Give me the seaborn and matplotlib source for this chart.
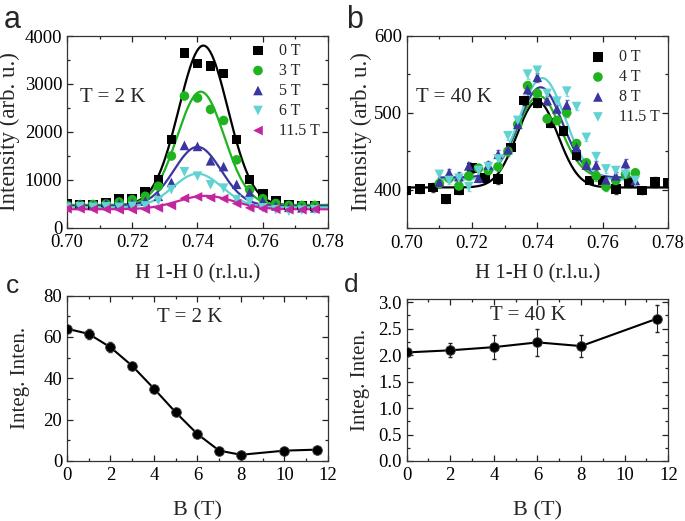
import numpy as np
import matplotlib
matplotlib.use("Agg")
import matplotlib.pyplot as plt
import seaborn as sns
from matplotlib.ticker import MultipleLocator, FormatStrFormatter

sns.set_theme(style="ticks")
plt.rcParams['font.family'] = ['Liberation Serif', 'DejaVu Serif']

# panel a: T = 2 K, H 1-H 0 scans at several fields
h_a = [0.700, 0.704, 0.708, 0.712, 0.716, 0.720, 0.724, 0.728, 0.732, 0.736,
       0.740, 0.744, 0.748, 0.752, 0.756, 0.760, 0.764, 0.768, 0.772, 0.776]
a_0T = [500, 490, 480, 530, 600, 610, 750, 1010, 1840, 3640, 3430, 3370, 3220, 1840, 1010, 710, 560, 480, 470, 455]
a_3T = [470, 480, 490, 500, 540, 590, 660, 870, 1500, 2750, 2710, 2470, 2240, 1420, 800, 610, 510, 470, 470, 470]
a_5T = [470, 500, 470, 520, 510, 520, 560, 660, 950, 1720, 1700, 1400, 1280, 910, 740, 560, 460, 430, 420, 420]
a_6T = [430, 440, 430, 440, 430, 450, 460, 570, 800, 1170, 1080, 900, 830, 590, 550, 420, 380, 350, 370, 380]
a_115T = [400, 400, 390, 390, 380, 380, 390, 420, 470, 620, 650, 630, 610, 510, 420, 400, 390, 380, 380, 390]
a_labels = ['0 T', '3 T', '5 T', '6 T', '11.5 T']
# gaussian fit parameters: baseline, amplitude, centre, sigma
a_base = [470, 480, 460, 430, 390]
a_amp = [3330, 2360, 1230, 700, 280]
a_cen = [0.7418, 0.7410, 0.7400, 0.7400, 0.7425]
a_sig = [0.0075, 0.0072, 0.0072, 0.0075, 0.0085]

# panel b: T = 40 K
h_b0 = [0.700, 0.704, 0.708, 0.712, 0.716, 0.720, 0.724, 0.728, 0.732, 0.736, 0.740,
        0.744, 0.748, 0.752, 0.756, 0.760, 0.764, 0.768, 0.772, 0.776, 0.780]
b_0T = [399, 401, 403, 388, 399, 428, 415, 414, 455, 516, 513, 487, 476, 445, 412, 412, 401, 409, 399, 410, 409]
h_b = [0.710, 0.713, 0.716, 0.719, 0.722, 0.725, 0.728, 0.731, 0.734, 0.737, 0.740,
       0.743, 0.746, 0.749, 0.752, 0.755, 0.758, 0.761, 0.764, 0.767, 0.770]
b_4T = [408, 415, 405, 418, 428, 425, 430, 450, 485, 535, 525, 492, 490, 500, 460, 435, 418, 404, 412, 420, 422]
b_8T = [410, 422, 417, 431, 415, 432, 446, 452, 485, 530, 546, 516, 505, 510, 455, 432, 432, 413, 418, 434, 412]
b_115T = [420, 412, 415, 404, 425, 430, 440, 470, 490, 550, 555, 525, 515, 528, 508, 468, 443, 427, 425, 420, 412]
b_err = [5, 5, 6, 5, 5, 6, 5, 6, 5, 6, 6, 6, 5, 6, 5, 5, 6, 5, 5, 6, 5]
b_labels = ['0 T', '4 T', '8 T', '11.5 T']
b_base = [403, 415, 416, 413]
b_amp = [112, 107, 117, 132]
b_cen = [0.7400, 0.7405, 0.7410, 0.7415]
b_sig = [0.0063, 0.0066, 0.0067, 0.0070]

# panel c / d: integrated intensity vs field
field_c = [0, 1, 2, 3, 4, 5, 6, 7, 8, 10, 11.5]
inten_c = [64, 61.5, 55, 46, 35, 23.5, 13, 5, 3, 5, 5.5]
err_c = [1.5, 2.5, 2.5, 1.2, 1.0, 1.0, 1.0, 1.0, 1.0, 1.0, 1.0]
field_d = [0, 2, 4, 6, 8, 11.5]
inten_d = [2.05, 2.09, 2.15, 2.24, 2.17, 2.69]
err_d = [0.05, 0.13, 0.22, 0.25, 0.20, 0.26]

colors = ['#000000', '#1fb41f', '#3b35a0', '#62d2d2', '#c4249e']
markers_a = ['s', 'o', '^', 'v', '<']
colors_b = colors[:4]
markers_b = ['s', 'o', '^', 'v']

fig = plt.figure(figsize=(6.85, 5.21), dpi=100)
ax_a = fig.add_axes([0.0978, 0.5624, 0.381, 0.3685])
ax_b = fig.add_axes([0.5937, 0.5618, 0.3815, 0.3697])
ax_c = fig.add_axes([0.0978, 0.1152, 0.381, 0.3173])
ax_d = fig.add_axes([0.5937, 0.1152, 0.3819, 0.311])

tick_fs = 13.5
int_fs = 16.5
lab_fs = 15
t_fs = 15
leg_fs = 11.5


def style(ax):
    ax.tick_params(which='both', direction='in', top=True, right=True,
                   labelsize=tick_fs, width=0.9, colors='#222222', labelcolor='black')
    ax.tick_params(which='major', length=4)
    ax.tick_params(which='minor', length=2.2)
    ax.tick_params(axis='x', pad=4.5)
    for s in ax.spines.values():
        s.set_linewidth(0.9)
        s.set_color('#333333')
    ax.yaxis.label.set_verticalalignment('center')
    ax.xaxis.label.set_verticalalignment('center')


def gauss(x, b, a, c, s):
    return b + a * np.exp(-(x - c) ** 2 / (2 * s ** 2))


# ---- panel a
xf = np.linspace(0.700, 0.780, 300)
series_a = [a_0T, a_3T, a_5T, a_6T, a_115T]
for i in range(5):
    sns.lineplot(x=xf, y=gauss(xf, a_base[i], a_amp[i], a_cen[i], a_sig[i]),
                 ax=ax_a, color=colors[i], lw=1.6, zorder=2)
for i, ys in enumerate(series_a):
    sns.scatterplot(x=h_a, y=ys, ax=ax_a, marker=markers_a[i], color=colors[i],
                    s=48, edgecolor='none', label=a_labels[i], zorder=3)
ax_a.set_xlim(0.70, 0.78)
ax_a.set_ylim(0, 4000)
ax_a.xaxis.set_major_locator(MultipleLocator(0.02))
ax_a.xaxis.set_minor_locator(MultipleLocator(0.01))
ax_a.yaxis.set_major_locator(MultipleLocator(1000))
ax_a.yaxis.set_minor_locator(MultipleLocator(500))
ax_a.xaxis.set_major_formatter(FormatStrFormatter('%.2f'))
ax_a.set_xlabel('H 1-H 0 (r.l.u.)', fontsize=lab_fs)
ax_a.set_ylabel('Intensity (arb. u.)', fontsize=int_fs)
ax_a.text(0.05, 0.68, 'T = 2 K', transform=ax_a.transAxes, fontsize=t_fs, va='center')
ax_a.legend(loc='upper left', bbox_to_anchor=(0.689, 0.965), frameon=False, fontsize=leg_fs,
            handlelength=1.4, handletextpad=0.6, labelspacing=0.25,
            borderaxespad=0, borderpad=0)
style(ax_a)
ax_a.xaxis.set_label_coords(0.5, -0.24)
ax_a.yaxis.set_label_coords(-0.222, 0.5)

# ---- panel b
series_b = [b_0T, b_4T, b_8T, b_115T]
xs_b = [h_b0, h_b, h_b, h_b]
for i in range(4):
    xx = np.linspace(min(xs_b[i]), max(xs_b[i]), 300)
    sns.lineplot(x=xx, y=gauss(xx, b_base[i], b_amp[i], b_cen[i], b_sig[i]),
                 ax=ax_b, color=colors_b[i], lw=1.6, zorder=2)
for i in range(4):
    ax_b.errorbar(xs_b[i], series_b[i], yerr=b_err[:len(xs_b[i])], fmt='none',
                  ecolor=colors_b[i], elinewidth=0.8, capsize=1.5, zorder=3, alpha=0.7)
    sns.scatterplot(x=xs_b[i], y=series_b[i], ax=ax_b, marker=markers_b[i], color=colors_b[i],
                    s=48, edgecolor='none', label=b_labels[i], zorder=4)
ax_b.set_xlim(0.70, 0.78)
ax_b.set_ylim(350, 600)
ax_b.xaxis.set_major_locator(MultipleLocator(0.02))
ax_b.xaxis.set_minor_locator(MultipleLocator(0.01))
ax_b.set_yticks([400, 500, 600])
ax_b.yaxis.set_minor_locator(MultipleLocator(50))
ax_b.xaxis.set_major_formatter(FormatStrFormatter('%.2f'))
ax_b.set_xlabel('H 1-H 0 (r.l.u.)', fontsize=lab_fs)
ax_b.set_ylabel('Intensity (arb. u.)', fontsize=int_fs)
ax_b.text(0.035, 0.68, 'T = 40 K', transform=ax_b.transAxes, fontsize=t_fs, va='center')
ax_b.legend(loc='upper left', bbox_to_anchor=(0.689, 0.93), frameon=False, fontsize=leg_fs,
            handlelength=1.4, handletextpad=0.6, labelspacing=0.25,
            borderaxespad=0, borderpad=0)
style(ax_b)
ax_b.xaxis.set_label_coords(0.5, -0.237)
ax_b.yaxis.set_label_coords(-0.172, 0.5)

# ---- panel c
ax_c.errorbar(field_c, inten_c, yerr=err_c, fmt='none', ecolor='#222222',
              elinewidth=0.8, capsize=1.5, zorder=2)
sns.lineplot(x=field_c, y=inten_c, ax=ax_c, color='black', lw=1.5, marker='o',
             markersize=7, markeredgecolor='#444444', markeredgewidth=0.6, zorder=3)
ax_c.set_xlim(0, 12)
ax_c.set_ylim(0, 80)
ax_c.xaxis.set_major_locator(MultipleLocator(2))
ax_c.xaxis.set_minor_locator(MultipleLocator(1))
ax_c.yaxis.set_major_locator(MultipleLocator(20))
ax_c.yaxis.set_minor_locator(MultipleLocator(10))
ax_c.set_xlabel('B (T)', fontsize=16)
ax_c.set_ylabel('Integ. Inten.', fontsize=lab_fs)
ax_c.text(0.47, 0.87, 'T = 2 K', transform=ax_c.transAxes, fontsize=t_fs, va='center', ha='center')
style(ax_c)
ax_c.xaxis.set_label_coords(0.5, -0.3)
ax_c.yaxis.set_label_coords(-0.177, 0.5)

# ---- panel d
ax_d.errorbar(field_d, inten_d, yerr=err_d, fmt='none', ecolor='#222222',
              elinewidth=0.8, capsize=1.5, zorder=2)
sns.lineplot(x=field_d, y=inten_d, ax=ax_d, color='black', lw=1.5, marker='o',
             markersize=7, markeredgecolor='#444444', markeredgewidth=0.6, zorder=3)
ax_d.set_xlim(0, 12)
ax_d.set_ylim(0, 3.06)
ax_d.xaxis.set_major_locator(MultipleLocator(2))
ax_d.xaxis.set_minor_locator(MultipleLocator(1))
ax_d.yaxis.set_major_locator(MultipleLocator(0.5))
ax_d.yaxis.set_minor_locator(MultipleLocator(0.25))
ax_d.yaxis.set_major_formatter(FormatStrFormatter('%.1f'))
ax_d.set_xlabel('B (T)', fontsize=16)
ax_d.set_ylabel('Integ. Inten.', fontsize=lab_fs)
ax_d.text(0.464, 0.90, 'T = 40 K', transform=ax_d.transAxes, fontsize=t_fs, va='center', ha='center')
style(ax_d)
ax_d.xaxis.set_label_coords(0.5, -0.306)
ax_d.yaxis.set_label_coords(-0.175, 0.5)

# panel letters
for lbl, x, y, fs in [('a', 12, 28, 22), ('b', 355, 28, 22), ('c', 12.5, 293, 19), ('d', 351, 292, 19)]:
    fig.text(x / 685, 1 - y / 521, lbl, fontsize=fs, family='Liberation Sans',
             ha='center', va='baseline')

fig.savefig('out.png', dpi=100)
